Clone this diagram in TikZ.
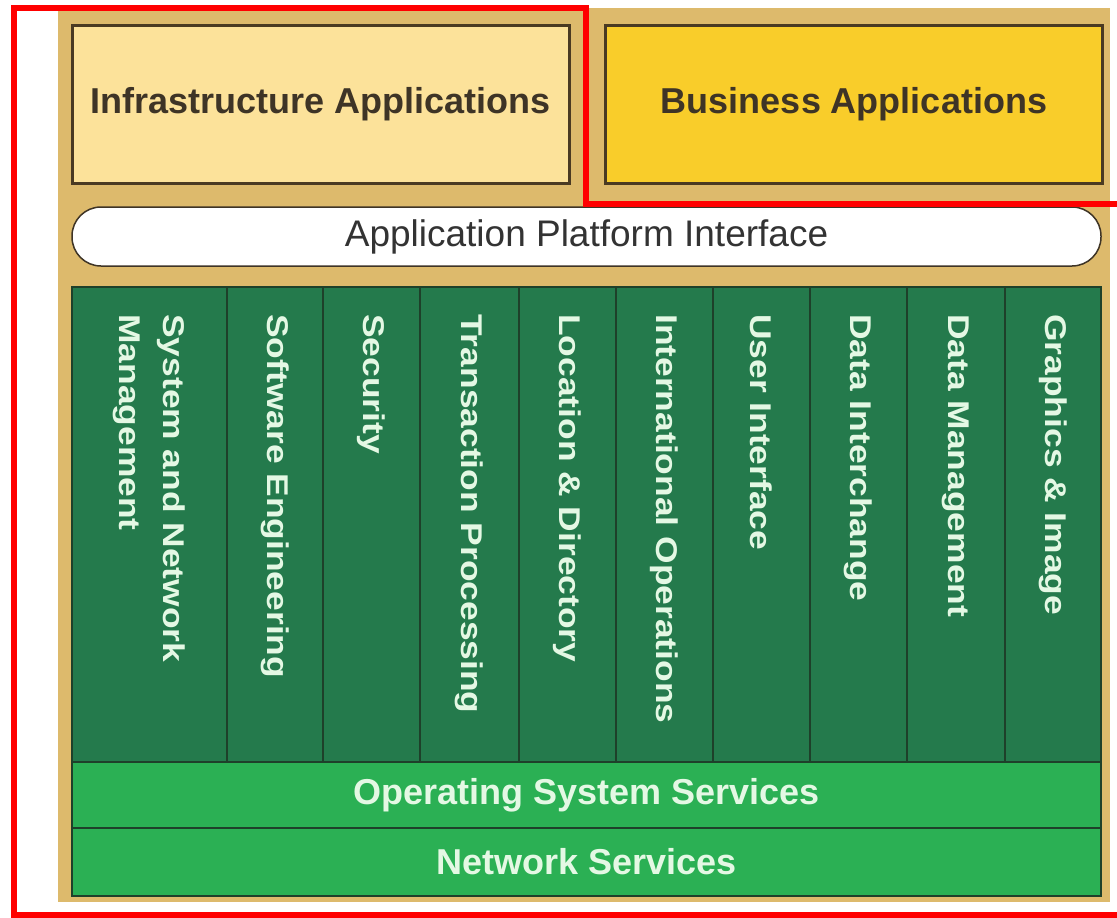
\documentclass[tikz,border=0pt]{standalone}
\usepackage{fontspec}
\setmainfont{Liberation Sans}
\usepackage{tikz}
\usetikzlibrary{calc}

\definecolor{panelbg}{RGB}{221,186,108}
\definecolor{infrafill}{RGB}{252,226,154}
\definecolor{bizfill}{RGB}{249,205,42}
\definecolor{boxline}{RGB}{74,58,34}
\definecolor{apptext}{RGB}{62,52,38}
\definecolor{darkgreen}{RGB}{36,122,76}
\definecolor{colline}{RGB}{30,64,42}
\definecolor{lightgreen}{RGB}{43,176,84}
\definecolor{mint}{RGB}{228,248,228}

\begin{document}
\begin{tikzpicture}[x=1pt,y=-1pt,
appbox/.style={draw=boxline, line width=3pt, minimum width=497pt, minimum height=158pt, text=apptext, font=\fontsize{36}{42}\selectfont\bfseries},
column/.style={draw=colline, line width=2pt, fill=darkgreen, minimum height=475pt, inner sep=0pt},
coltext/.style={rotate=-90, xscale=1.18, anchor=west, inner sep=0pt, align=left, text=mint, font=\fontsize{30}{44}\selectfont\bfseries},
layer/.style={draw=colline, line width=2pt, fill=lightgreen, minimum width=1029pt, inner sep=0pt, text=mint, font=\fontsize{36}{42}\selectfont\bfseries}]
\useasboundingbox (0,0) rectangle (1117,918);
\node[fill=panelbg, minimum width=1052pt, minimum height=894pt, inner sep=0pt] (panel) at (584,455) {};
% top row
\node[appbox, fill=infrafill] (infra) at (320.5,104) {Infrastructure Applications};
\node[appbox, fill=bizfill] (biz) at (854,104) {Business Applications};
\node[draw=apptext, line width=1.5pt, fill=white, rounded corners=29pt, minimum width=1029pt, minimum height=59pt, inner sep=0pt, text=black!80, font=\fontsize{37}{42}\selectfont] (api) at (586.5,236.5) {Application Platform Interface};
% service columns
\foreach \l/\r/\txt [count=\i] in {72/227/{System and Network\\Management}, 227/323/Software Engineering, 323/420/Security, 420/519/Transaction Processing, 519/616/Location \& Directory, 616/713/International Operations, 713/810/User Interface, 810/907/Data Interchange, 907/1005/Data Management, 1005/1101/Graphics \& Image}
{
\node[column, minimum width={(\r-\l)*1pt}] (col\i) at ({(\l+\r)/2},524.5) {};
\node[coltext] (lbl\i) at ($(col\i.north)+(0,28)$) {\txt};
}
\node[layer, minimum height=66pt] (os) at (586.5,795) {Operating System Services};
\node[layer, minimum height=68pt] (net) at (586.5,862) {Network Services};
% red outline
\draw[red, line width=6pt] (1117,203.5) -- (586,203.5) -- (586,7.5) -- (13.5,7.5) -- (13.5,915) -- (1117,915);
\end{tikzpicture}
\end{document}
